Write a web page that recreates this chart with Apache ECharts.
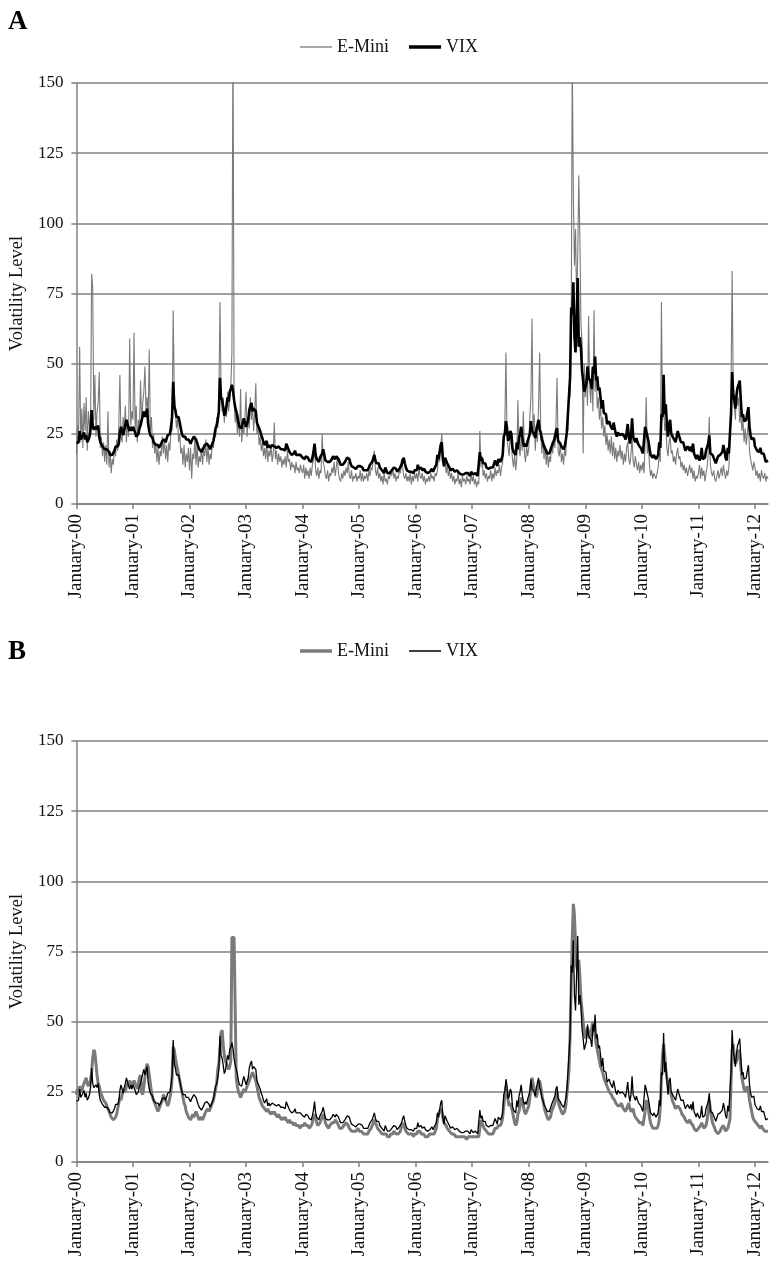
<!DOCTYPE html>
<html>
<head>
<meta charset="utf-8">
<script src="https://cdn.jsdelivr.net/npm/echarts@6/dist/echarts.min.js"></script>
<style>
html,body{margin:0;padding:0;background:#fff;}
#a{position:absolute;left:0;top:0;width:769px;height:630px;}
#b{position:absolute;left:0;top:630px;width:769px;height:631px;}
</style>
</head>
<body>
<div id="a"></div>
<div id="b"></div>
<script>
// ---- tick labels ----
const yearLabels = ['January-00','January-01','January-02','January-03','January-04','January-05','January-06',
  'January-07','January-08','January-09','January-10','January-11','January-12'];
const firstYear = 2000;
const weeksPerYear = 52;
const yMin = 0, yMax = 150, yStep = 25;

// ---- VIX, weekly readings (2000 ... Mar 2012) ----
const vixWeekly = [
  21.7,21.5,22.0,26.0,23.0,22.5,24.5,25.5,23.0,24.5,22.0,22.8,24.0,26.5,33.5,28.0,26.5,27.0,27.5,26.5,28.0,24.0,22.0,21.5,20.5,20.0,19.5,19.0,19.5,19.5,18.5,17.5,17.0,17.5,18.0,19.0,20.5,21.0,20.5,21.5,25.5,27.5,26.0,24.5,26.5,28.0,30.0,28.5,27.0,26.0,27.5,26.0,
  27.5,28.0,25.5,24.0,24.5,25.0,27.0,28.0,28.5,31.5,33.0,31.0,31.5,34.0,28.5,26.0,24.5,24.0,23.5,22.0,21.5,21.0,20.5,21.0,20.0,20.5,21.5,22.5,23.0,23.0,22.0,22.5,24.5,24.0,25.0,27.5,31.0,43.5,35.0,33.5,31.0,30.5,31.0,29.0,27.0,25.0,24.0,23.5,24.0,23.0,22.5,23.0,
  22.5,21.5,22.5,23.0,24.0,24.5,23.0,22.5,20.5,19.5,19.0,18.5,18.5,20.0,21.0,21.5,21.5,22.0,20.5,19.5,19.0,21.5,22.5,24.5,27.0,28.0,30.0,33.0,45.0,38.0,37.0,34.5,31.5,32.5,35.0,38.0,36.5,40.0,41.0,42.5,40.5,37.0,34.5,33.0,31.5,29.0,27.5,28.0,27.0,29.0,30.5,29.0,
  27.5,27.5,30.0,33.5,35.0,36.0,33.0,34.0,34.0,33.0,29.0,28.5,27.0,26.0,24.5,23.5,22.0,21.0,21.5,22.5,20.0,21.0,20.0,20.5,21.0,21.0,20.5,20.5,20.0,20.5,20.5,20.0,19.5,19.0,19.5,19.5,19.0,21.5,20.5,19.5,18.5,18.5,17.5,17.5,18.0,19.0,17.5,17.0,17.5,17.0,17.5,18.0,
  16.5,16.0,16.0,17.0,17.0,16.5,15.5,15.5,15.0,16.5,18.5,21.5,17.5,16.0,16.0,15.0,16.5,17.0,18.0,19.5,17.5,15.5,15.0,15.0,14.5,15.0,15.5,16.0,17.0,16.5,16.0,17.0,17.5,16.0,15.0,14.0,13.5,14.0,14.0,15.0,15.5,16.5,16.5,16.0,14.5,13.5,13.0,13.0,12.5,12.5,12.0,13.5,
  13.0,13.5,13.0,13.0,12.0,11.5,12.0,12.5,12.0,13.0,14.0,14.0,15.0,15.5,17.5,15.5,14.5,14.0,14.5,13.0,12.5,12.0,11.5,11.0,13.0,12.0,11.0,10.5,11.0,11.0,12.0,12.0,13.0,13.0,12.5,11.5,12.0,12.5,13.0,14.0,15.5,16.5,14.5,13.0,12.0,11.5,11.5,11.0,11.5,11.5,11.0,12.0,
  11.5,12.0,14.0,12.5,13.0,13.0,12.0,12.0,12.5,11.5,11.0,11.0,11.5,11.5,12.0,12.5,11.5,12.5,12.0,14.0,17.5,16.0,16.5,21.0,22.0,16.0,13.5,16.5,16.0,14.5,14.0,13.0,12.0,12.0,12.5,12.0,11.5,11.5,12.0,11.5,11.0,11.0,10.5,11.0,10.5,10.0,11.0,10.5,11.0,10.5,10.0,11.5,
  11.5,10.5,10.5,11.0,10.5,10.0,10.5,18.5,15.5,16.5,14.5,15.0,14.5,13.0,12.5,12.5,13.0,13.0,13.5,13.0,13.5,15.5,15.0,13.5,16.0,16.5,15.0,16.0,17.5,24.0,25.0,29.5,27.0,22.5,23.5,26.0,25.0,20.0,18.5,18.0,17.5,22.0,19.5,23.5,25.0,27.5,24.0,21.5,20.5,21.5,20.5,22.5,
  23.0,25.0,29.5,26.0,26.5,25.0,23.5,26.5,27.0,30.0,26.5,25.5,23.0,22.0,20.5,20.0,19.0,18.0,17.5,18.0,18.5,20.5,21.5,22.0,23.5,26.0,27.0,22.5,22.5,21.5,20.5,20.0,19.5,20.5,22.5,25.5,32.0,32.5,45.0,70.0,67.5,79.0,59.5,54.0,66.5,80.5,56.0,59.5,55.5,47.5,44.0,40.0,
  40.0,43.0,49.0,45.0,44.5,43.5,41.0,49.0,46.5,52.5,44.0,45.5,40.5,41.5,38.0,34.0,37.0,32.5,32.5,32.0,28.5,28.5,29.5,28.0,28.5,26.5,29.0,27.0,25.0,24.0,25.5,25.5,24.5,25.0,25.0,25.5,24.0,23.0,25.5,28.5,24.0,21.5,24.0,30.5,24.0,23.0,22.0,23.5,22.0,21.0,21.5,20.0,
  19.0,18.0,18.0,27.5,26.0,26.5,22.5,20.0,17.5,17.5,16.5,17.5,17.5,16.0,16.5,17.5,22.0,20.0,32.0,31.0,46.0,32.0,35.5,28.5,24.0,28.5,30.0,25.0,25.0,23.5,23.5,22.0,24.0,26.0,24.5,24.0,22.0,21.5,22.0,22.0,19.0,19.0,20.5,21.0,19.0,20.5,18.5,21.5,18.0,17.5,16.0,17.5,
  17.5,15.5,16.5,20.0,16.0,15.5,16.5,19.0,19.0,21.5,24.5,18.0,17.5,17.5,17.0,15.5,14.5,15.0,17.0,17.5,17.5,18.0,18.5,21.0,19.0,16.5,15.5,20.0,18.0,25.0,32.0,47.0,39.5,37.0,34.0,38.5,41.5,42.5,44.0,37.0,31.0,32.0,29.5,30.0,30.0,32.5,34.5,27.5,24.5,23.0,23.0,23.5,
  20.5,20.0,19.0,18.5,18.5,20.0,18.0,17.5,18.0,17.5,15.0,15.0,15.5
];

// ---- E-Mini realized volatility (panel A), weekly readings incl. spikes ----
const eminiRealizedA = [
  18,28,24,56,22,34,20,36,26,38,19,33,28,24,82,77,30,46,24,33,36,47,20,24,17,22,15,21,14,33,13,19,11,16,14,20,17,23,19,28,46,24,22,31,26,35,22,30,24,59,28,33,
  30,61,26,35,22,30,27,44,29,36,40,49,34,38,30,55,26,31,20,25,18,22,15,20,14,19,17,24,18,23,16,21,15,22,19,27,26,69,40,33,27,31,22,25,18,20,14,21,13,18,15,20,
  12,20,9,18,16,24,14,21,13,17,15,20,14,19,17,23,15,21,14,18,16,22,20,26,24,31,27,36,72,42,33,38,29,35,31,40,33,37,42,54,175,38,29,33,25,30,24,41,22,28,25,31,
  40,24,31,27,38,30,35,26,33,43,25,28,21,24,19,22,17,20,16,22,15,19,17,21,15,18,29,16,19,14,18,15,17,13,16,14,17,13,19,15,16,12,15,13,14,11,15,12,13,11,14,12,
  11,14,9,13,10,12,9,13,10,14,16,20,12,10,13,9,12,11,25,15,13,10,9,12,8,11,10,13,11,15,10,13,17,11,9,8,11,9,12,10,13,11,15,10,9,12,8,10,9,11,8,10,
  9,12,8,11,8,10,9,11,8,12,10,13,12,17,19,12,10,13,9,11,8,10,7,11,8,9,7,10,9,12,10,13,9,11,8,10,9,12,11,16,13,10,9,11,8,10,8,11,7,10,8,11,
  9,11,8,13,10,9,11,8,10,7,9,8,10,8,11,9,10,8,11,10,12,18,15,20,25,17,13,16,11,14,10,12,9,11,8,10,7,9,8,11,7,9,6,10,8,9,7,10,8,9,7,11,
  8,10,7,9,6,8,7,26,13,17,10,12,9,11,8,10,9,12,8,11,9,13,10,12,11,14,10,13,15,22,28,54,24,20,17,25,21,16,13,18,12,16,37,20,17,24,19,33,18,15,21,17,
  20,31,38,66,24,32,19,28,22,35,54,26,18,24,16,21,14,19,13,17,15,22,18,24,20,28,45,19,17,22,15,18,14,20,17,27,26,42,38,60,160,110,85,98,72,88,117,95,64,58,18,50,
  38,46,35,67,42,36,48,33,69,40,47,34,38,30,35,27,31,24,28,21,25,19,23,18,24,17,22,16,20,15,19,17,21,16,19,14,18,15,20,22,16,14,18,24,15,13,17,14,12,15,11,14,
  12,15,11,22,38,18,21,14,10,12,9,11,10,9,11,13,18,15,72,30,38,26,29,20,17,22,24,18,19,15,17,14,18,20,16,17,13,15,12,14,11,13,10,12,14,11,13,9,12,8,10,9,
  11,14,9,13,10,12,8,11,13,18,31,14,11,10,12,9,8,10,12,9,11,13,10,14,11,9,12,10,13,22,40,83,44,36,30,41,35,38,29,33,26,30,22,27,21,25,30,19,16,14,12,15,
  13,10,12,9,11,8,12,10,9,11,8,10,9
];

// ---- E-Mini volatility (panel B), weekly readings ----
const eminiForecastB = [
  24,26,25,27,26,25,27,28,29,30,28,27,28,29,32,37,40,39,35,31,28,27,25,24,23,22,22,21,20,19,18,17,16,16,15,15,16,17,19,21,23,22,24,25,26,25,27,28,27,29,28,27,
  27,29,28,27,26,28,30,31,25,24,27,30,33,35,34,31,28,25,23,22,21,20,19,18,19,20,21,22,24,23,22,21,20,21,23,25,30,41,40,37,35,33,31,29,27,25,23,21,20,18,17,16,
  16,15,16,17,16,17,18,17,16,15,15,16,15,16,17,18,18,19,18,19,20,21,22,24,26,28,33,35,40,46,47,42,38,36,35,34,33,34,36,80,80,80,80,30,27,25,24,23,24,25,26,25,
  26,27,28,29,30,31,32,31,30,29,27,25,23,22,21,20,20,19,19,18,19,18,18,17,18,17,18,17,17,16,17,16,16,15,16,15,16,15,15,14,15,14,14,14,13,14,13,13,13,13,12,13,
  13,13,14,13,13,13,12,12,13,14,16,17,16,14,13,13,14,15,16,17,16,14,13,13,12,13,13,14,14,14,15,15,14,13,12,12,12,12,13,13,14,14,13,12,12,11,11,11,11,11,11,12,
  11,11,11,11,10,10,10,10,10,11,11,12,13,14,15,14,13,12,12,11,11,10,10,10,10,10,9,9,9,10,10,10,11,11,10,10,10,10,11,13,14,13,12,11,11,10,10,10,10,10,9,10,
  10,10,11,11,11,10,10,10,10,9,9,9,9,10,10,10,10,10,11,12,15,17,18,19,18,16,14,14,13,12,12,11,11,10,10,10,10,9,9,9,9,9,9,9,9,9,9,8,9,9,9,9,
  9,9,9,9,9,9,9,12,15,14,13,12,12,11,11,10,10,10,10,10,11,12,12,12,13,13,13,14,16,20,24,27,25,22,20,21,21,18,16,14,13,14,17,18,20,23,22,20,18,17,18,19,
  20,23,27,30,28,26,24,23,25,27,29,27,24,22,20,18,17,16,15,15,16,18,19,20,21,23,25,22,20,19,18,17,17,18,20,24,28,33,45,62,80,92,88,78,70,68,72,66,58,54,50,46,
  44,46,48,46,44,45,48,50,47,45,42,40,38,36,34,33,32,30,29,28,27,26,25,25,24,23,23,22,21,21,20,20,20,21,20,19,19,18,18,20,21,19,18,18,19,17,16,16,15,15,14,14,
  14,13,13,18,22,21,19,16,14,13,12,12,12,12,12,13,15,20,30,38,42,38,33,30,28,26,25,24,22,21,20,19,19,20,20,19,18,17,17,16,15,15,14,14,15,14,14,13,12,12,11,11,
  12,12,13,14,13,12,12,13,15,18,22,19,16,14,13,12,11,11,10,10,11,12,12,13,12,11,11,12,12,15,28,40,42,38,35,36,38,40,38,34,30,28,26,25,26,27,25,22,20,18,16,15,
  15,14,14,13,13,12,13,12,12,11,11,11,11
];

// week keys used as category names
const categories = vixWeekly.map((_, i) =>
  (firstYear + Math.floor(i / weeksPerYear)) + '-W' + String(i % weeksPerYear + 1).padStart(2, '0'));

const FONT = '"Liberation Serif", "Times New Roman", serif';
const GRID_GREY = '#808080';
const isYearStart = (idx) => idx % weeksPerYear === 0;

function legendItem(name, left, top, thickness) {
  return {
    data: [{ name: name, icon: 'rect' }],
    left: left, top: top, padding: 0,
    itemWidth: 32, itemHeight: thickness,
    textStyle: { fontFamily: FONT, fontSize: 18, color: '#111' },
    selectedMode: false
  };
}

function makeOption(letter, gridTop, legendTop, eminiThick, vixThick, series) {
  return {
    animation: false,
    backgroundColor: '#ffffff',
    graphic: [{
      type: 'text', left: 8, top: 9,
      style: { text: letter, font: 'bold 27px ' + FONT, fill: '#000' }
    }],
    legend: [
      legendItem('E-Mini', 300, legendTop, eminiThick),
      legendItem('VIX', 409, legendTop, vixThick)
    ],
    grid: { left: 73, right: 1, top: gridTop, height: 421, containLabel: false },
    xAxis: {
      type: 'category', data: categories, boundaryGap: false,
      axisLine: { show: true, lineStyle: { color: GRID_GREY, width: 1.5 } },
      axisTick: { show: true, interval: isYearStart, length: 5, lineStyle: { color: GRID_GREY, width: 1.5 } },
      axisLabel: {
        interval: isYearStart, rotate: 90, margin: 10,
        fontFamily: FONT, fontSize: 19, color: '#111',
        formatter: (v, idx) => yearLabels[Math.floor(idx / weeksPerYear)]
      },
      splitLine: { show: false }
    },
    yAxis: {
      type: 'value', min: yMin, max: yMax, interval: yStep,
      name: 'Volatility Level', nameLocation: 'middle', nameGap: 48,
      nameTextStyle: { fontFamily: FONT, fontSize: 18.5, color: '#111' },
      axisLine: { show: true, lineStyle: { color: GRID_GREY, width: 1.5 } },
      axisTick: { show: true, length: 5, lineStyle: { color: GRID_GREY, width: 1.5 } },
      axisLabel: { fontFamily: FONT, fontSize: 17, color: '#111', margin: 13 },
      splitLine: { show: true, lineStyle: { color: GRID_GREY, width: 1.5 } }
    },
    series: series
  };
}

const chartA = echarts.init(document.getElementById('a'), null, { renderer: 'canvas' });
chartA.setOption(makeOption('A', 83, 38, 1.5, 3.5, [
  { name: 'E-Mini', type: 'line', data: eminiRealizedA, symbol: 'none', clip: true,
    lineStyle: { color: '#7a7a7a', width: 1.1 }, itemStyle: { color: '#8a8a8a' }, z: 2 },
  { name: 'VIX', type: 'line', data: vixWeekly, symbol: 'none', clip: true,
    lineStyle: { color: '#000', width: 2.6 }, itemStyle: { color: '#000' }, z: 3 }
]));

const chartB = echarts.init(document.getElementById('b'), null, { renderer: 'canvas' });
chartB.setOption(makeOption('B', 111, 12, 3.5, 1.5, [
  { name: 'E-Mini', type: 'line', data: eminiForecastB, symbol: 'none', clip: true,
    lineStyle: { color: '#7a7a7a', width: 3 }, itemStyle: { color: '#7a7a7a' }, z: 2 },
  { name: 'VIX', type: 'line', data: vixWeekly, symbol: 'none', clip: true,
    lineStyle: { color: '#000', width: 1.3 }, itemStyle: { color: '#000' }, z: 3 }
]));
</script>
</body>
</html>
